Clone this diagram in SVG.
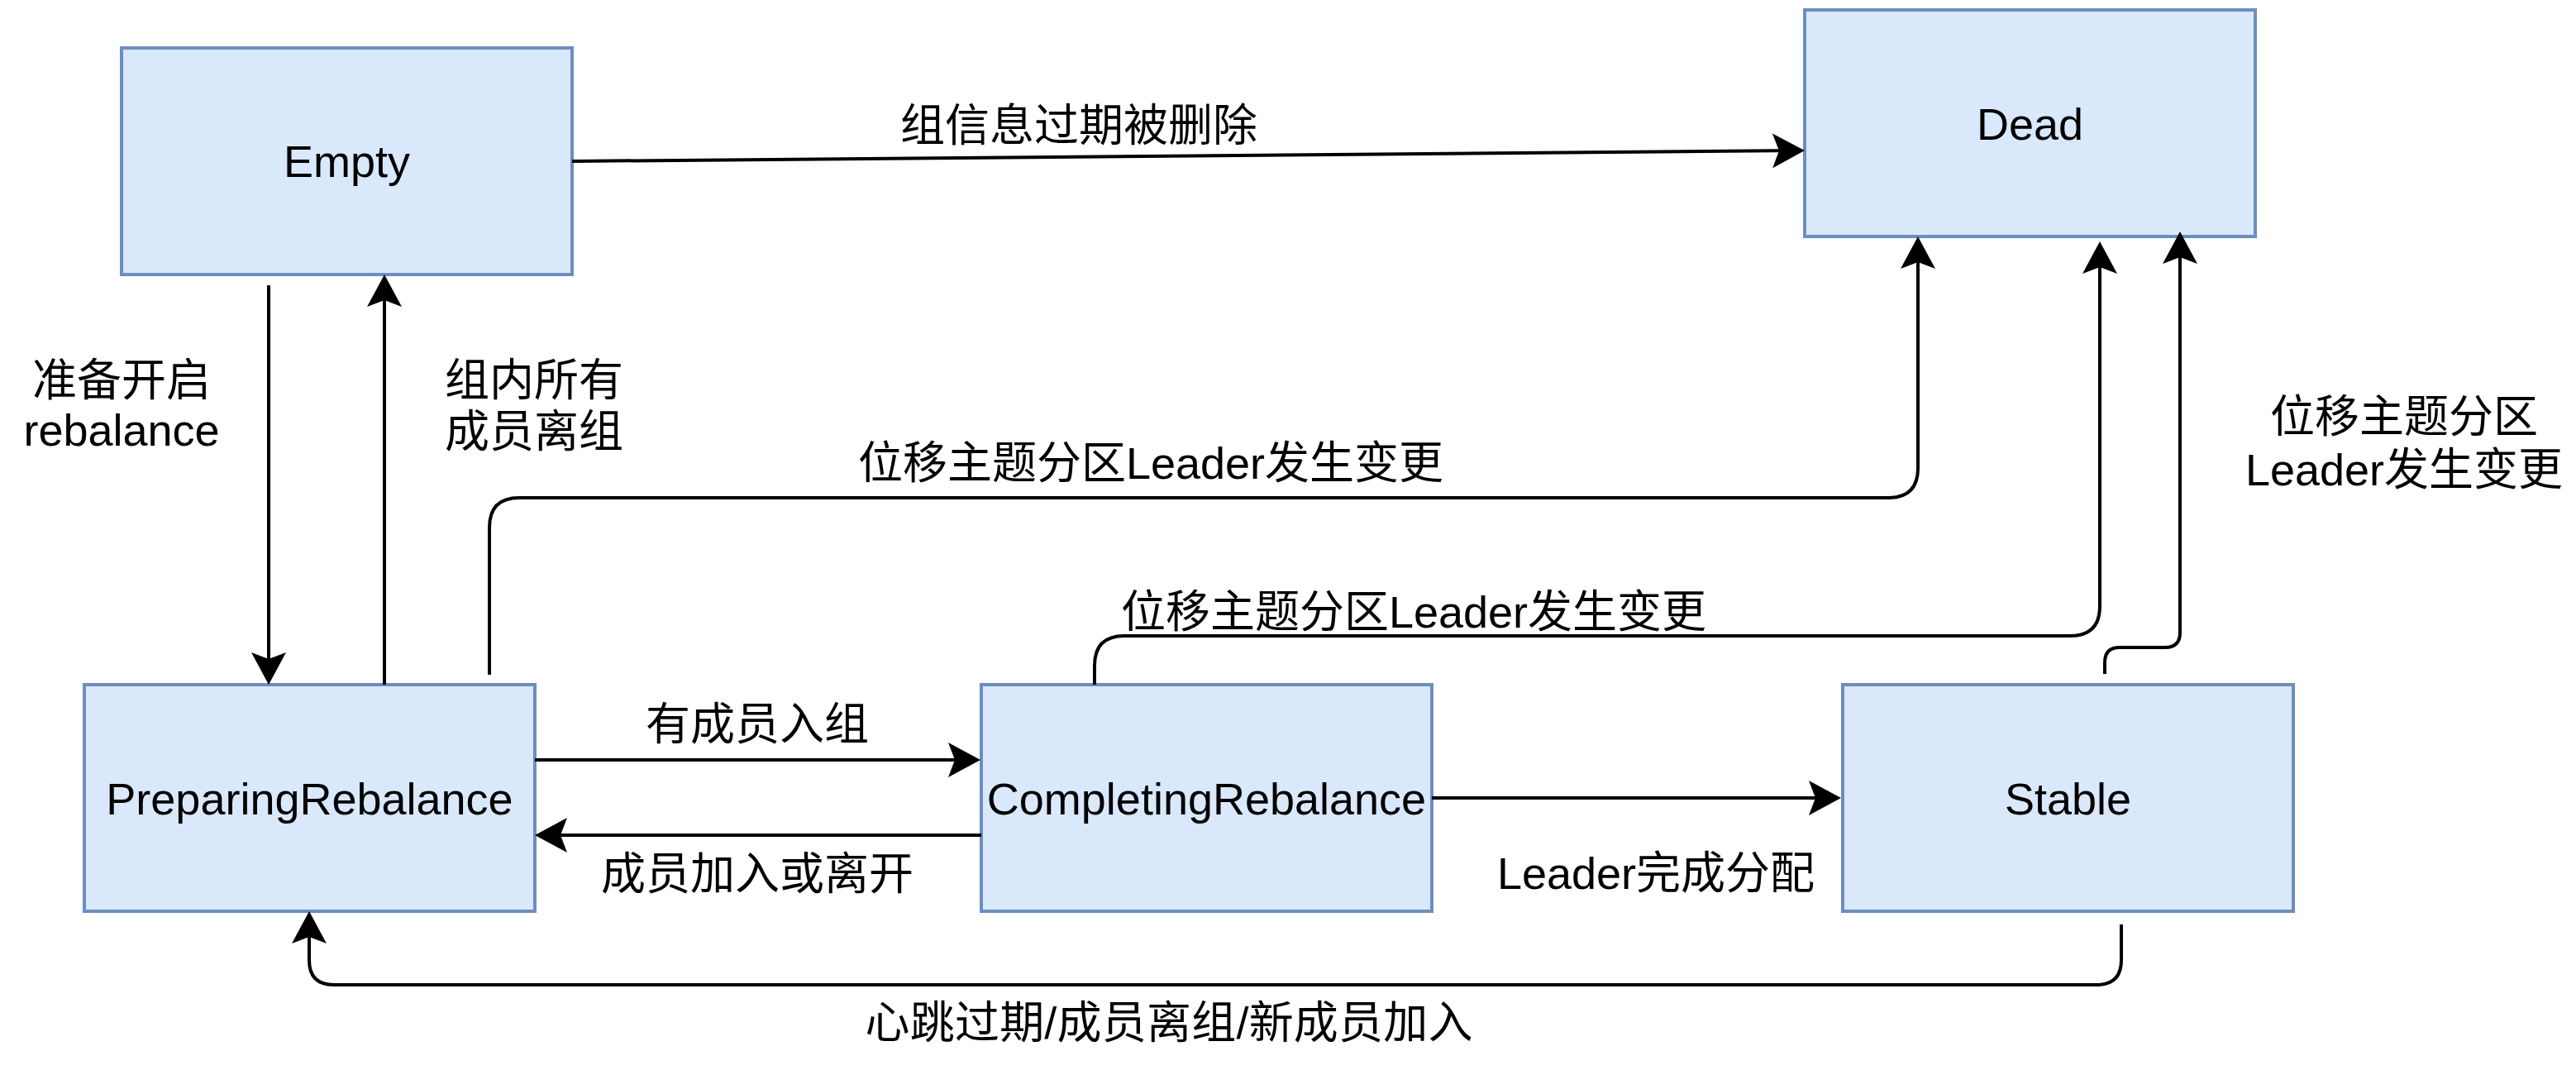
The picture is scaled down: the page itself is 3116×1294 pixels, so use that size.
<svg xmlns="http://www.w3.org/2000/svg" width="3116" height="1294" viewBox="0 0 3116 1294">
<style>
.node rect{fill:#dae8fc;stroke:#6c8ebf;stroke-width:4}
text{font-family:"Liberation Sans","Noto Sans CJK SC",sans-serif;font-size:54px;fill:#000;text-anchor:middle}
.edges path{fill:none;stroke:#000;stroke-width:4;marker-end:url(#arr)}
.edges path.plain{marker-end:none}
</style>
<defs>
<marker id="arr" markerUnits="userSpaceOnUse" markerWidth="40" markerHeight="42" refX="29" refY="21" orient="auto" viewBox="0 0 40 42">
<path d="M0,0 L39,21 L0,42 L8,21 Z" fill="#000"/>
</marker>
</defs>
<rect width="3116" height="1294" fill="#fff"/>
<g id="node-empty" class="node"><rect x="147" y="58" width="545" height="274"/><text x="419.5" y="214">Empty</text></g>
<g id="node-dead" class="node"><rect x="2183" y="12" width="545" height="274"/><text x="2455.5" y="169">Dead</text></g>
<g id="node-preparing" class="node"><rect x="102" y="828" width="545" height="274"/><text x="374.5" y="985">PreparingRebalance</text></g>
<g id="node-completing" class="node"><rect x="1187" y="828" width="545" height="274"/><text x="1459.5" y="985">CompletingRebalance</text></g>
<g id="node-stable" class="node"><rect x="2229" y="828" width="545" height="274"/><text x="2501.5" y="985">Stable</text></g>
<g id="connectors" class="edges">
<path d="M692,195 L2173,182.1"/>
<path d="M325,345 L325,818"/>
<path d="M465,828 L465,342"/>
<path d="M592,816 L592,638 Q592,602 628,602 L2284,602 Q2320,602 2320,566 L2320,296"/>
<path d="M647,919 L1176,919"/>
<path d="M1187,1010 L657,1010"/>
<path d="M1732,965 L2217,965"/>
<path d="M1324,828 L1324,805 Q1324,769 1360,769 L2504,769 Q2540,769 2540,733 L2540,302"/>
<path d="M2546,815 L2546,801 Q2546,783 2564,783 L2619,783 Q2637,783 2637,765 L2637,290"/>
<path d="M2566,1118 L2566,1161 Q2566,1191 2536,1191 L404,1191 Q374,1191 374,1161 L374,1112"/>
</g>
<g id="labels">
<text x="1305" y="171">组信息过期被删除</text>
<text x="147" y="479">准备开启</text>
<text x="147" y="539">rebalance</text>
<text x="646" y="479">组内所有</text>
<text x="646" y="541">成员离组</text>
<text x="1392" y="579">位移主题分区Leader发生变更</text>
<text x="2908" y="523">位移主题分区</text>
<text x="2908" y="587">Leader发生变更</text>
<text x="1710" y="759">位移主题分区Leader发生变更</text>
<text x="916" y="895">有成员入组</text>
<text x="916" y="1076">成员加入或离开</text>
<text x="2003" y="1075">Leader完成分配</text>
<text x="1414" y="1256" textLength="735" lengthAdjust="spacing">心跳过期/成员离组/新成员加入</text>
</g>
</svg>
